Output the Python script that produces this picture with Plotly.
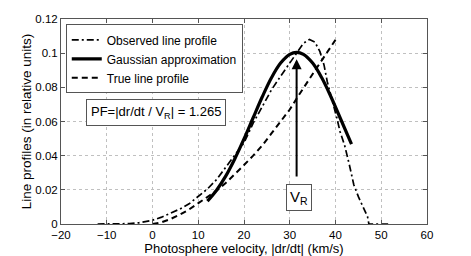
import plotly.graph_objects as go

# Observed line profile (dash-dot)
obs_x = [-12, -8, -5, -3, -1, 0, 2, 4, 6, 8, 10, 12, 14, 16, 18, 20, 22, 24, 26, 28,
         30, 31.5, 33, 34.3, 35.5, 36.6, 37.5, 38.2, 39.2, 40.3, 41, 42, 43, 44, 45, 46,
         47, 47.3, 50, 52]
obs_y = [0, 0, 0.0002, 0.0007, 0.0015, 0.0022, 0.0040, 0.0062, 0.0088, 0.0118, 0.0160,
         0.0205, 0.0260, 0.0330, 0.0400, 0.0475, 0.0590, 0.0690, 0.0785, 0.0865,
         0.0945, 0.1005, 0.1058, 0.1080, 0.1065, 0.1009, 0.0930, 0.0833, 0.0736, 0.0620,
         0.0540, 0.0460, 0.0350, 0.0230, 0.0160, 0.0105, 0.0043, 0, 0, 0]

# Gaussian approximation (solid)
gau_x = [12, 14, 16, 18, 20, 22, 24, 26, 28, 30, 31.5, 33, 35, 37, 39, 41, 43.5]
gau_y = [0.0134, 0.0198, 0.0280, 0.0382, 0.0498, 0.0622, 0.0745, 0.0856, 0.0942,
         0.0993, 0.1005, 0.0993, 0.0942, 0.0856, 0.0745, 0.0622, 0.0468]

# True line profile (dashed)
true_x = [0, 2, 4, 6, 8, 10, 12, 14, 16, 18, 20, 22, 24, 26, 28, 30, 32, 34, 36, 38, 40]
true_y = [0, 0.001, 0.003, 0.0055, 0.0085, 0.012, 0.0155, 0.0195, 0.024, 0.029,
          0.0345, 0.040, 0.046, 0.053, 0.060, 0.067, 0.0755, 0.084, 0.0918, 0.0998,
          0.1078]

x_ticks = [-20, -10, 0, 10, 20, 30, 40, 50, 60]
x_ticklabels = ["\u221220", "\u221210", "0", "10", "20", "30", "40", "50", "60"]
y_ticks = [0, 0.02, 0.04, 0.06, 0.08, 0.1, 0.12]
y_ticklabels = ["0", "0.02", "0.04", "0.06", "0.08", "0.1", "0.12"]

vr_x = 31.5
vr_arrow_y = [0.027, 0.0965]

FONT = "Liberation Sans, Arial, Helvetica, sans-serif"

fig = go.Figure()
fig.add_trace(go.Scatter(x=obs_x, y=obs_y, mode="lines", name="Observed line profile",
                         line=dict(color="black", width=1.7, dash="7px,3px,2px,3px")))
fig.add_trace(go.Scatter(x=gau_x, y=gau_y, mode="lines", name="Gaussian approximation",
                         line=dict(color="black", width=3.2), line_shape="spline"))
fig.add_trace(go.Scatter(x=true_x, y=true_y, mode="lines", name="True line profile",
                         line=dict(color="black", width=2, dash="6px,4px")))

fig.add_annotation(x=vr_x, y=vr_arrow_y[1], ax=vr_x, ay=vr_arrow_y[0], axref="x", ayref="y",
                   xref="x", yref="y", text="", showarrow=True, arrowhead=2, arrowsize=1,
                   arrowwidth=2, arrowcolor="black")
fig.add_annotation(x=32.0, y=0.0156, xref="x", yref="y", text="V<sub>R</sub>",
                   showarrow=False, font=dict(size=15, color="black", family=FONT),
                   bordercolor="#555555", borderwidth=1, borderpad=3, bgcolor="white")
fig.add_annotation(x=0.73, y=0.0651, xref="x", yref="y",
                   text="PF=|dr/dt / V<sub>R</sub>| = 1.265", showarrow=False,
                   font=dict(size=13, color="black", family=FONT),
                   bordercolor="#555555", borderwidth=1, borderpad=4, bgcolor="white")

axis_common = dict(showline=True, linecolor="#555555", linewidth=1, mirror="allticks",
                   ticks="inside", ticklen=4, tickcolor="#555555", showgrid=True,
                   gridcolor="#c0c0c0", griddash="dot", gridwidth=1, zeroline=False,
                   automargin=False,
                   tickfont=dict(size=11.5, color="black", family=FONT))

fig.update_xaxes(range=[-20, 60], tickvals=x_ticks, ticktext=x_ticklabels,
                 title=dict(text="Photosphere velocity, |dr/dt| (km/s)", standoff=2,
                            font=dict(size=13, color="black", family=FONT)),
                 **axis_common)
fig.update_yaxes(range=[0, 0.12], tickvals=y_ticks, ticktext=y_ticklabels,
                 title=dict(text="Line profiles (in relative units)", standoff=0,
                            font=dict(size=13.5, color="black", family=FONT)),
                 **axis_common)

# the page body adds an 8px offset, so the figure is 8px smaller on each side
fig.update_layout(width=463, height=248, margin=dict(l=53, r=44, t=11, b=32),
                  paper_bgcolor="white", plot_bgcolor="white",
                  font=dict(family=FONT, size=12, color="black"),
                  showlegend=True,
                  legend=dict(x=0.013, y=0.974, xanchor="left", yanchor="top",
                              bgcolor="white", bordercolor="#555555", borderwidth=1,
                              font=dict(size=12, color="black", family=FONT),
                              itemwidth=30, tracegroupgap=0))

fig.write_html("out.html")
